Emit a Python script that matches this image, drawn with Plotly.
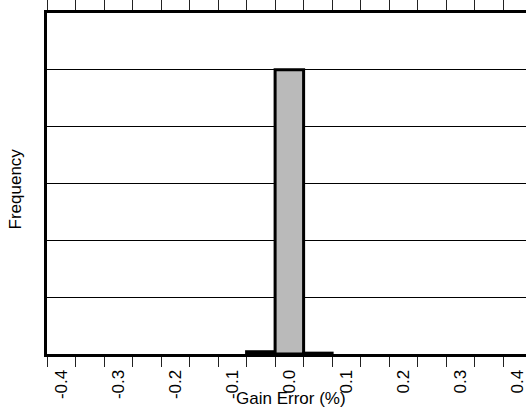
import plotly.graph_objects as go

# Histogram data (bin centers in %, frequency)
bin_centers = [-0.025, 0.025, 0.075]
frequency = [0.04, 5.0, 0.015]
bin_width = 0.05

tick_vals = [round(-0.4 + 0.05 * i, 2) for i in range(17)]
tick_text = [("%.1f" % v if i % 2 == 0 else "") for i, v in enumerate(tick_vals)]

fig = go.Figure()
fig.add_trace(go.Bar(
    x=bin_centers, y=frequency, width=[bin_width] * len(bin_centers),
    marker=dict(color="#bababa", line=dict(color="black", width=3)),
))

font_family = "Liberation Sans, Arial, sans-serif"
fig.update_layout(
    width=526, height=410,
    margin=dict(l=47, r=0, t=13, b=56, autoexpand=False),
    paper_bgcolor="white", plot_bgcolor="white",
    showlegend=False,
    font=dict(family=font_family, color="black", size=17),
    xaxis=dict(
        range=[-0.4, 0.44], automargin=False,
        tickmode="array", tickvals=tick_vals, ticktext=tick_text,
        tickangle=-90, ticklabelshift=14, ticklabelstandoff=-4, tickfont=dict(size=17),
        ticklabeloverflow="allow",
        ticks="outside", ticklen=10, tickwidth=1.3, tickcolor="#222",
        showline=True, linewidth=3, linecolor="black", mirror="ticks",
        showgrid=False, zeroline=False,
    ),
    yaxis=dict(
        range=[0, 6], dtick=1, showticklabels=False, ticks="", automargin=False,
        showline=True, linewidth=3, linecolor="black",
        showgrid=True, gridcolor="black", gridwidth=1, zeroline=False,
    ),
    annotations=[
        dict(text="Gain Error (%)", xref="paper", yref="paper", x=0.51, y=-0.13,
             xanchor="center", yanchor="middle", showarrow=False, font=dict(size=17)),
        dict(text="Frequency", xref="paper", yref="paper", x=-0.065, y=0.485,
             xanchor="center", yanchor="middle", textangle=-90, showarrow=False,
             font=dict(size=17)),
    ],
)
fig.write_html(
    "out.html",
    config={"displayModeBar": False},
    post_script="document.body.style.margin='0';document.body.style.overflow='hidden';",
)
